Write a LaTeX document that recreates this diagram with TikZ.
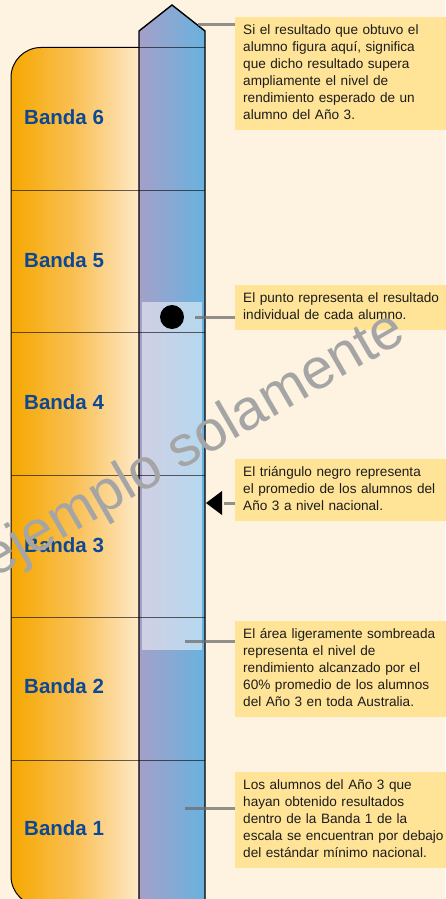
\documentclass[tikz,border=0pt]{standalone}
\usepackage{fontspec}
\setmainfont{Liberation Sans}
\definecolor{bg}{RGB}{254,242,224}
\definecolor{or1}{RGB}{246,168,0}
\definecolor{or3}{RGB}{249,192,85}
\definecolor{or2}{RGB}{254,233,200}
\definecolor{bl1}{RGB}{164,160,200}
\definecolor{bl2}{RGB}{104,178,224}
\definecolor{boxc}{RGB}{255,227,150}
\definecolor{txt}{RGB}{28,28,28}
\definecolor{lbl}{RGB}{14,72,148}
\definecolor{wmc}{RGB}{165,165,165}
\definecolor{ldc}{RGB}{110,110,110}
\begin{document}
\begin{tikzpicture}[x=1pt,y=-1pt,
  bandline/.style={draw=black, draw opacity=0.6, line width=1pt},
  leader/.style={draw=ldc, draw opacity=0.75, line width=3pt},
  bandlabel/.style={anchor=west, inner sep=0pt, text=lbl, font=\fontsize{20.5}{24}\selectfont\bfseries},
  callout/.style={fill=boxc, anchor=north west, inner xsep=8pt, inner ysep=5.6pt, text width=210pt, align=left, text=txt, font=\fontsize{13.6}{17}\selectfont},
  marker/.style={circle, fill=black, inner sep=0pt, minimum size=24pt}]
\useasboundingbox (0,0) rectangle (445,899);
\fill[bg] (0,0) rectangle (445,899);
% orange panel
\shade[left color=or1, right color=or2, middle color=or3] (139,47.5) [rounded corners=30pt] -- (11,47.5) -- (11,906) [sharp corners] -- (139,906) -- cycle;
\draw[black, line width=1pt] (139,47.5) [rounded corners=30pt] -- (11,47.5) -- (11,906) -- (139,906);
% blue bar
\shade[left color=bl1, right color=bl2] (139,906) -- (139,31) -- (172,5) -- (205,31) -- (205,906) -- cycle;
% shaded band
\fill[white, opacity=0.5] (142,302) rectangle (202,650);
\draw[black, line width=1.4pt, line join=miter] (139,906) -- (139,31) -- (172,5) -- (205,31) -- (205,906);
% band lines
\draw[bandline] (139,47.5) -- (205,47.5);
\foreach \yy in {190,332.5,475,617.5,760} \draw[bandline] (11,\yy) -- (205,\yy);
% labels
\node[bandlabel] (n6) at (24,117.5) {Banda 6};
\node[bandlabel] (n5) at (24,260) {Banda 5};
\node[bandlabel] (n4) at (24,402.5) {Banda 4};
\node[bandlabel] (n3) at (24,545) {Banda 3};
\node[bandlabel] (n2) at (24,686.5) {Banda 2};
\node[bandlabel] (n1) at (24,828) {Banda 1};
% marks
\node[marker] (dot) at (172,317) {};
\fill[black] (206,503) -- (222,491) -- (222,515) -- cycle;
\coordinate (s1) at (197.5,25);
\coordinate (s2) at (195,317);
\coordinate (s3) at (224,503);
\coordinate (s4) at (185,641);
\coordinate (s5) at (185,808);
% callouts
\node[callout] (b1) at (235,16.7) {\strut Si el resultado que obtuvo el\\ alumno figura aquí, significa\\ que dicho resultado supera\\ ampliamente el nivel de\\ rendimiento esperado de un\\ alumno del Año 3.\strut};
\node[callout] (b2) at (235,285) {\strut El punto representa el resultado\\ individual de cada alumno.\strut};
\node[callout] (b3) at (235,459) {\strut El triángulo negro representa\\ el promedio de los alumnos del\\ Año 3 a nivel nacional.\strut};
\node[callout] (b4) at (235,621) {\strut El área ligeramente sombreada\\ representa el nivel de\\ rendimiento alcanzado por el\\ 60\% promedio de los alumnos\\ del Año 3 en toda Australia.\strut};
\node[callout] (b5) at (235,772) {\strut Los alumnos del Año 3 que\\ hayan obtenido resultados\\ dentro de la Banda 1 de la\\ escala se encuentran por debajo\\ del estándar mínimo nacional.\strut};
% leaders
\draw[leader] (s1) -- (s1 -| b1.west);
\draw[leader] (s2) -- (s2 -| b2.west);
\draw[leader] (s3) -- (s3 -| b3.west);
\draw[leader] (s4) -- (s4 -| b4.west);
\draw[leader] (s5) -- (s5 -| b5.west);
% watermark
\node[text=wmc, rotate=30, inner sep=0pt, font=\fontsize{57}{62}\selectfont] (wm) at (194,446) {ejemplo solamente};
\end{tikzpicture}
\end{document}
